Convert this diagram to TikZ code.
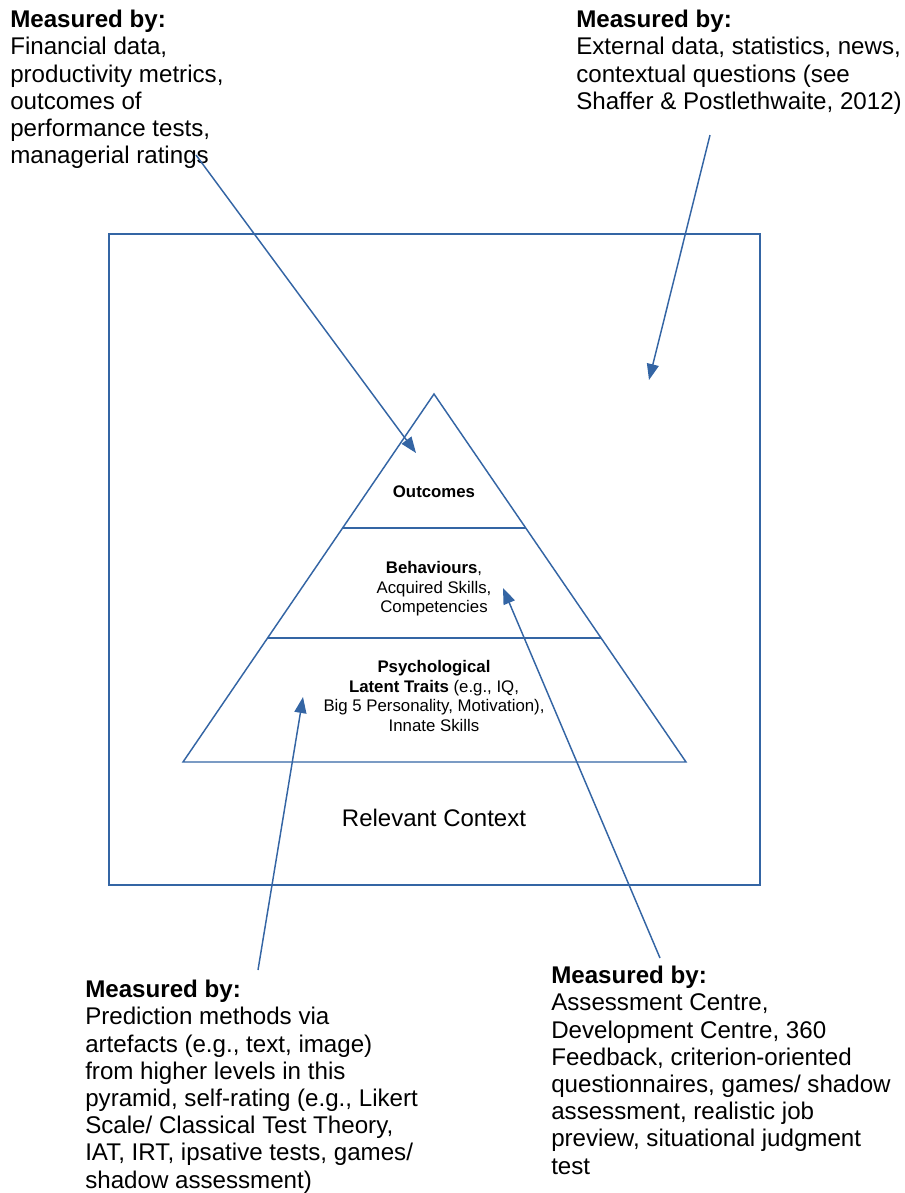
\documentclass[tikz,border=0pt]{standalone}
\usepackage{fontspec}
\setmainfont{Liberation Sans}
\usetikzlibrary{arrows.meta,calc}
\definecolor{lineblue}{HTML}{3465A4}

\begin{document}
\begin{tikzpicture}[
    x=0.75pt, y=-0.75pt,
    frame/.style={draw=lineblue, line width=1.1pt},
    measure/.style={-{Triangle[length=12pt,width=9pt]}, draw=lineblue, line width=1.1pt},
    note/.style={anchor=north west, inner sep=0pt, align=left, font=\fontsize{18.1}{20.4}\selectfont},
    level/.style={align=center, inner sep=0pt, font=\fontsize{12.6}{14.6}\selectfont}
]
\useasboundingbox (0,0) rectangle (905,1193);

% Context box
\draw[frame] (109,234) rectangle (760,885);
\node[font=\fontsize{18}{20}\selectfont] (context) at (434,818) {Relevant Context};

% Pyramid
\coordinate (apex) at (434,394);
\coordinate (baseL) at (183,762);
\coordinate (baseR) at (686,762);
\draw[frame] (apex) -- (baseL) -- (baseR) -- cycle;
\draw[frame] ($(apex)!0.364!(baseL)$) -- ($(apex)!0.364!(baseR)$);
\draw[frame] ($(apex)!0.663!(baseL)$) -- ($(apex)!0.663!(baseR)$);

% Levels
\node[level] (outcomes) at (434,492) {\textbf{Outcomes}};
\node[level] (behaviours) at (434,589) {\textbf{Behaviours},\\Acquired Skills,\\Competencies};
\node[level] (traits) at (434,696) {\textbf{Psychological}\\\textbf{Latent Traits} (e.g., IQ,\\Big 5 Personality, Motivation),\\Innate Skills};

% Measures
\node[note] (mOutcomes) at (10,10) {\textbf{Measured by:}\\Financial data,\\productivity metrics,\\outcomes of\\performance tests,\\managerial ratings};
\node[note] (mContext) at (576,10) {\textbf{Measured by:}\\External data, statistics, news,\\contextual questions (see\\Shaffer \& Postlethwaite, 2012)};
\node[note] (mTraits) at (85,980) {\textbf{Measured by:}\\Prediction methods via\\artefacts (e.g., text, image)\\from higher levels in this\\pyramid, self-rating (e.g., Likert\\Scale/ Classical Test Theory,\\IAT, IRT, ipsative tests, games/\\shadow assessment)};
\node[note] (mBehaviours) at (551,966) {\textbf{Measured by:}\\Assessment Centre,\\Development Centre, 360\\Feedback, criterion-oriented\\questionnaires, games/ shadow\\assessment, realistic job\\preview, situational judgment\\test};

% Arrow ends
\coordinate (tOutcomes) at (196,155);
\coordinate (hOutcomes) at (416,453);
\coordinate (tContext) at (710,135);
\coordinate (hContext) at (649,380);
\coordinate (tTraits) at (258,970);
\coordinate (hTraits) at (303,697);
\coordinate (tBehaviours) at (660,958);
\coordinate (hBehaviours) at (503,588);

\draw[measure] (tOutcomes) -- (hOutcomes);
\draw[measure] (tContext) -- (hContext);
\draw[measure] (tTraits) -- (hTraits);
\draw[measure] (tBehaviours) -- (hBehaviours);

\end{tikzpicture}
\end{document}
